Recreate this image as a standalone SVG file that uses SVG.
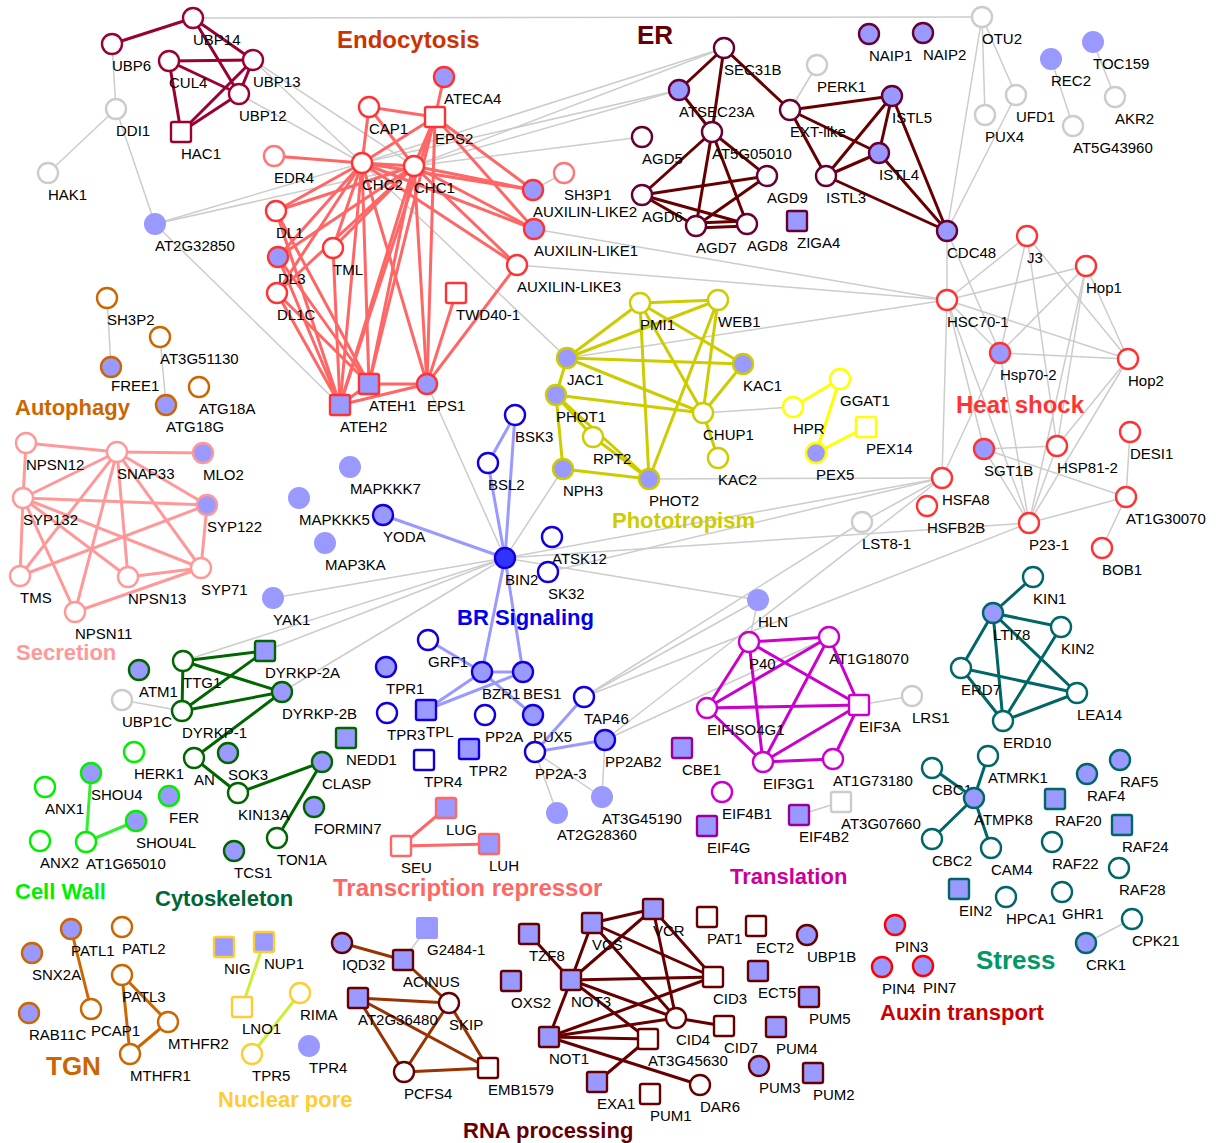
<svg xmlns="http://www.w3.org/2000/svg" width="1217" height="1143" viewBox="0 0 1217 1143">
<style>
text{font-family:"Liberation Sans",Arial,sans-serif;font-size:15px;fill:#000}
.c text{font-weight:bold}
circle,rect{stroke-width:2.4;fill:#fff}
.f{fill:#9999ff}
.nb{stroke:none}
.dk{fill:#3333ff}
.gr{stroke:#cccccc}
.ubp{stroke:#990033}.endo{stroke:#ff3333}.endo2{stroke:#ff7777}.er{stroke:#660033}.hs{stroke:#ff3333}
.auto{stroke:#cc6600}.sec{stroke:#ff9999}.pho{stroke:#cccc00}.yel{stroke:#ffff00}.br{stroke:#1100dd}
.cyt{stroke:#006600}.cw{stroke:#00ee00}.tr{stroke:#ff6666}.tl{stroke:#cc00cc}.tl2{stroke:#990099}.st{stroke:#006666}
.aux{stroke:#ff0000}.tgn{stroke:#cc6600}.np{stroke:#ffcc33}.rna{stroke:#660000}
#connectors line{stroke-linecap:round}
.e0{stroke:#cccccc;stroke-width:1.5}
.e1{stroke-width:3}
.eubp{stroke:#990033}.eendo{stroke:#ff6666}.eer{stroke:#660000}.esec{stroke:#ff9999}.epho{stroke:#cccc00}
.eyel{stroke:#ffff00}.ebr{stroke:#9999ff}.etl{stroke:#cc00cc}.est{stroke:#006666}.ecyt{stroke:#006600}
.ecw{stroke:#33ee33}.etr{stroke:#ff6666}.etgn{stroke:#cc6600}.enp{stroke:#ccee33}.eac{stroke:#993300}.erna{stroke:#660000}
</style>
<rect width="1217" height="1143" fill="#fff"/>
<g id="connectors">
<g class="e0">
<line x1="193" y1="18" x2="982" y2="17"/>
<line x1="112" y1="44" x2="116" y2="109"/>
<line x1="116" y1="109" x2="48" y2="173"/>
<line x1="116" y1="109" x2="155" y2="224"/>
<line x1="155" y1="224" x2="362" y2="163"/>
<line x1="155" y1="224" x2="414" y2="166"/>
<line x1="155" y1="224" x2="340" y2="405"/>
<line x1="253" y1="60" x2="414" y2="166"/>
<line x1="253" y1="60" x2="362" y2="163"/>
<line x1="239" y1="94" x2="362" y2="163"/>
<line x1="362" y1="163" x2="724" y2="48"/>
<line x1="414" y1="166" x2="724" y2="48"/>
<line x1="362" y1="163" x2="679" y2="90"/>
<line x1="414" y1="166" x2="679" y2="90"/>
<line x1="414" y1="166" x2="642" y2="137"/>
<line x1="564" y1="173" x2="533" y2="190"/>
<line x1="534" y1="229" x2="947" y2="300"/>
<line x1="517" y1="265" x2="947" y2="300"/>
<line x1="567" y1="358" x2="947" y2="300"/>
<line x1="362" y1="163" x2="567" y2="358"/>
<line x1="427" y1="384" x2="505" y2="558"/>
<line x1="505" y1="558" x2="563" y2="469"/>
<line x1="505" y1="558" x2="273" y2="598"/>
<line x1="505" y1="558" x2="183" y2="661"/>
<line x1="505" y1="558" x2="265" y2="651"/>
<line x1="505" y1="558" x2="282" y2="692"/>
<line x1="505" y1="558" x2="942" y2="478"/>
<line x1="548" y1="572" x2="942" y2="478"/>
<line x1="505" y1="558" x2="758" y2="600"/>
<line x1="505" y1="558" x2="1029" y2="523"/>
<line x1="649" y1="479" x2="942" y2="478"/>
<line x1="605" y1="740" x2="942" y2="478"/>
<line x1="862" y1="522" x2="942" y2="478"/>
<line x1="584" y1="697" x2="862" y2="522"/>
<line x1="584" y1="697" x2="1029" y2="523"/>
<line x1="584" y1="697" x2="758" y2="600"/>
<line x1="758" y1="600" x2="749" y2="642"/>
<line x1="605" y1="740" x2="829" y2="637"/>
<line x1="703" y1="413" x2="793" y2="407"/>
<line x1="817" y1="65" x2="790" y2="110"/>
<line x1="982" y1="17" x2="947" y2="231"/>
<line x1="982" y1="17" x2="985" y2="115"/>
<line x1="982" y1="17" x2="1016" y2="95"/>
<line x1="1016" y1="95" x2="947" y2="231"/>
<line x1="1051" y1="59" x2="1073" y2="126"/>
<line x1="1093" y1="42" x2="1115" y2="97"/>
<line x1="947" y1="231" x2="947" y2="300"/>
<line x1="947" y1="231" x2="1000" y2="353"/>
<line x1="1027" y1="236" x2="947" y2="300"/>
<line x1="1027" y1="236" x2="1000" y2="353"/>
<line x1="1027" y1="236" x2="1057" y2="446"/>
<line x1="1027" y1="236" x2="1128" y2="359"/>
<line x1="947" y1="300" x2="1086" y2="266"/>
<line x1="947" y1="300" x2="1128" y2="359"/>
<line x1="947" y1="300" x2="1000" y2="353"/>
<line x1="947" y1="300" x2="984" y2="449"/>
<line x1="947" y1="300" x2="1029" y2="523"/>
<line x1="947" y1="300" x2="942" y2="478"/>
<line x1="1000" y1="353" x2="1086" y2="266"/>
<line x1="1000" y1="353" x2="1128" y2="359"/>
<line x1="1000" y1="353" x2="1029" y2="523"/>
<line x1="1000" y1="353" x2="942" y2="478"/>
<line x1="1086" y1="266" x2="1029" y2="523"/>
<line x1="1086" y1="266" x2="1057" y2="446"/>
<line x1="1086" y1="266" x2="1128" y2="359"/>
<line x1="1128" y1="359" x2="1029" y2="523"/>
<line x1="1128" y1="359" x2="1057" y2="446"/>
<line x1="984" y1="449" x2="1057" y2="446"/>
<line x1="984" y1="449" x2="1029" y2="523"/>
<line x1="984" y1="449" x2="1126" y2="497"/>
<line x1="1057" y1="446" x2="1029" y2="523"/>
<line x1="1029" y1="523" x2="1126" y2="497"/>
<line x1="1130" y1="432" x2="1126" y2="497"/>
<line x1="1126" y1="497" x2="1102" y2="548"/>
<line x1="859" y1="705" x2="912" y2="696"/>
<line x1="799" y1="815" x2="841" y2="802"/>
<line x1="535" y1="752" x2="557" y2="813"/>
<line x1="535" y1="752" x2="602" y2="797"/>
<line x1="605" y1="740" x2="602" y2="797"/>
<line x1="427" y1="928" x2="403" y2="960"/>
<line x1="122" y1="700" x2="182" y2="711"/>
<line x1="1086" y1="943" x2="1132" y2="919"/>
<line x1="107" y1="298" x2="111" y2="367"/>
<line x1="160" y1="337" x2="166" y2="405"/>
</g>
<g class="e1 eubp">
<line x1="193" y1="18" x2="112" y2="44"/>
<line x1="193" y1="18" x2="253" y2="60"/>
<line x1="193" y1="18" x2="239" y2="94"/>
<line x1="169" y1="61" x2="253" y2="60"/>
<line x1="169" y1="61" x2="239" y2="94"/>
<line x1="169" y1="61" x2="181" y2="132"/>
<line x1="253" y1="60" x2="239" y2="94"/>
<line x1="253" y1="60" x2="181" y2="132"/>
<line x1="239" y1="94" x2="181" y2="132"/>
</g>
<g class="e1 eendo">
<line x1="444" y1="77" x2="435" y2="117"/>
<line x1="369" y1="107" x2="435" y2="117"/>
<line x1="369" y1="107" x2="362" y2="163"/>
<line x1="369" y1="107" x2="414" y2="166"/>
<line x1="435" y1="117" x2="362" y2="163"/>
<line x1="435" y1="117" x2="414" y2="166"/>
<line x1="435" y1="117" x2="533" y2="190"/>
<line x1="435" y1="117" x2="534" y2="229"/>
<line x1="435" y1="117" x2="369" y2="384"/>
<line x1="435" y1="117" x2="340" y2="405"/>
<line x1="435" y1="117" x2="427" y2="384"/>
<line x1="362" y1="163" x2="414" y2="166"/>
<line x1="362" y1="163" x2="274" y2="156"/>
<line x1="362" y1="163" x2="276" y2="211"/>
<line x1="362" y1="163" x2="278" y2="257"/>
<line x1="362" y1="163" x2="277" y2="293"/>
<line x1="362" y1="163" x2="333" y2="248"/>
<line x1="362" y1="163" x2="369" y2="384"/>
<line x1="362" y1="163" x2="340" y2="405"/>
<line x1="362" y1="163" x2="427" y2="384"/>
<line x1="362" y1="163" x2="533" y2="190"/>
<line x1="362" y1="163" x2="534" y2="229"/>
<line x1="362" y1="163" x2="517" y2="265"/>
<line x1="414" y1="166" x2="276" y2="211"/>
<line x1="414" y1="166" x2="278" y2="257"/>
<line x1="414" y1="166" x2="277" y2="293"/>
<line x1="414" y1="166" x2="333" y2="248"/>
<line x1="414" y1="166" x2="369" y2="384"/>
<line x1="414" y1="166" x2="340" y2="405"/>
<line x1="414" y1="166" x2="427" y2="384"/>
<line x1="414" y1="166" x2="533" y2="190"/>
<line x1="414" y1="166" x2="534" y2="229"/>
<line x1="414" y1="166" x2="517" y2="265"/>
<line x1="276" y1="211" x2="369" y2="384"/>
<line x1="276" y1="211" x2="340" y2="405"/>
<line x1="278" y1="257" x2="369" y2="384"/>
<line x1="278" y1="257" x2="340" y2="405"/>
<line x1="277" y1="293" x2="369" y2="384"/>
<line x1="277" y1="293" x2="340" y2="405"/>
<line x1="333" y1="248" x2="340" y2="405"/>
<line x1="369" y1="384" x2="340" y2="405"/>
<line x1="369" y1="384" x2="427" y2="384"/>
<line x1="340" y1="405" x2="427" y2="384"/>
<line x1="456" y1="293" x2="427" y2="384"/>
<line x1="517" y1="265" x2="427" y2="384"/>
</g>
<g class="e1 eer">
<line x1="724" y1="48" x2="679" y2="90"/>
<line x1="724" y1="48" x2="712" y2="132"/>
<line x1="724" y1="48" x2="790" y2="110"/>
<line x1="679" y1="90" x2="712" y2="132"/>
<line x1="712" y1="132" x2="642" y2="195"/>
<line x1="712" y1="132" x2="696" y2="226"/>
<line x1="712" y1="132" x2="747" y2="224"/>
<line x1="712" y1="132" x2="767" y2="176"/>
<line x1="642" y1="195" x2="767" y2="176"/>
<line x1="642" y1="195" x2="696" y2="226"/>
<line x1="642" y1="195" x2="747" y2="224"/>
<line x1="696" y1="223" x2="747" y2="221"/>
<line x1="696" y1="228" x2="747" y2="226"/>
<line x1="696" y1="226" x2="767" y2="176"/>
<line x1="790" y1="110" x2="892" y2="96"/>
<line x1="790" y1="110" x2="826" y2="176"/>
<line x1="790" y1="110" x2="879" y2="153"/>
<line x1="892" y1="96" x2="826" y2="176"/>
<line x1="892" y1="96" x2="879" y2="153"/>
<line x1="892" y1="96" x2="947" y2="231"/>
<line x1="879" y1="153" x2="826" y2="176"/>
<line x1="879" y1="153" x2="947" y2="231"/>
<line x1="826" y1="176" x2="947" y2="231"/>
</g>
<g class="e1 esec">
<line x1="26" y1="443" x2="117" y2="452"/>
<line x1="26" y1="443" x2="23" y2="498"/>
<line x1="117" y1="452" x2="203" y2="453"/>
<line x1="117" y1="452" x2="23" y2="498"/>
<line x1="117" y1="452" x2="20" y2="576"/>
<line x1="117" y1="452" x2="75" y2="612"/>
<line x1="117" y1="452" x2="128" y2="577"/>
<line x1="117" y1="452" x2="201" y2="568"/>
<line x1="117" y1="452" x2="207" y2="505"/>
<line x1="23" y1="498" x2="207" y2="505"/>
<line x1="23" y1="498" x2="20" y2="576"/>
<line x1="23" y1="498" x2="75" y2="612"/>
<line x1="23" y1="498" x2="128" y2="577"/>
<line x1="23" y1="498" x2="201" y2="568"/>
<line x1="20" y1="576" x2="207" y2="505"/>
<line x1="207" y1="505" x2="201" y2="568"/>
<line x1="128" y1="577" x2="201" y2="568"/>
<line x1="75" y1="612" x2="201" y2="568"/>
</g>
<g class="e1 epho">
<line x1="567" y1="358" x2="640" y2="303"/>
<line x1="567" y1="358" x2="718" y2="300"/>
<line x1="567" y1="358" x2="743" y2="364"/>
<line x1="567" y1="358" x2="703" y2="413"/>
<line x1="567" y1="358" x2="556" y2="395"/>
<line x1="556" y1="395" x2="703" y2="413"/>
<line x1="556" y1="395" x2="593" y2="437"/>
<line x1="556" y1="395" x2="563" y2="469"/>
<line x1="556" y1="395" x2="649" y2="479"/>
<line x1="593" y1="437" x2="649" y2="479"/>
<line x1="563" y1="469" x2="649" y2="479"/>
<line x1="640" y1="303" x2="718" y2="300"/>
<line x1="640" y1="303" x2="743" y2="364"/>
<line x1="640" y1="303" x2="649" y2="479"/>
<line x1="640" y1="303" x2="703" y2="413"/>
<line x1="718" y1="300" x2="703" y2="413"/>
<line x1="718" y1="300" x2="649" y2="479"/>
<line x1="743" y1="364" x2="703" y2="413"/>
<line x1="703" y1="413" x2="718" y2="458"/>
</g>
<g class="e1 eyel">
<line x1="793" y1="407" x2="840" y2="379"/>
<line x1="840" y1="379" x2="816" y2="453"/>
<line x1="816" y1="453" x2="866" y2="427"/>
</g>
<g class="e1 ebr">
<line x1="515" y1="415" x2="488" y2="463"/>
<line x1="515" y1="415" x2="505" y2="558"/>
<line x1="488" y1="463" x2="505" y2="558"/>
<line x1="383" y1="515" x2="505" y2="558"/>
<line x1="505" y1="558" x2="482" y2="672"/>
<line x1="505" y1="558" x2="523" y2="672"/>
<line x1="428" y1="640" x2="482" y2="672"/>
<line x1="482" y1="672" x2="523" y2="672"/>
<line x1="482" y1="672" x2="426" y2="710"/>
<line x1="523" y1="672" x2="426" y2="710"/>
<line x1="482" y1="672" x2="533" y2="715"/>
<line x1="584" y1="697" x2="535" y2="752"/>
<line x1="535" y1="752" x2="605" y2="740"/>
</g>
<g class="e1 etl">
<line x1="749" y1="642" x2="829" y2="637"/>
<line x1="749" y1="642" x2="707" y2="708"/>
<line x1="749" y1="642" x2="859" y2="705"/>
<line x1="749" y1="642" x2="763" y2="762"/>
<line x1="829" y1="637" x2="707" y2="708"/>
<line x1="829" y1="637" x2="859" y2="705"/>
<line x1="829" y1="637" x2="763" y2="762"/>
<line x1="707" y1="708" x2="859" y2="705"/>
<line x1="707" y1="708" x2="763" y2="762"/>
<line x1="859" y1="705" x2="763" y2="762"/>
<line x1="859" y1="705" x2="833" y2="759"/>
<line x1="763" y1="762" x2="833" y2="759"/>
</g>
<g class="e1 est">
<line x1="993" y1="613" x2="1033" y2="577"/>
<line x1="993" y1="613" x2="1061" y2="627"/>
<line x1="993" y1="613" x2="961" y2="668"/>
<line x1="993" y1="613" x2="1003" y2="721"/>
<line x1="993" y1="613" x2="1077" y2="693"/>
<line x1="961" y1="668" x2="1077" y2="693"/>
<line x1="961" y1="668" x2="1003" y2="721"/>
<line x1="1003" y1="721" x2="1077" y2="693"/>
<line x1="1003" y1="721" x2="1061" y2="627"/>
<line x1="932" y1="768" x2="974" y2="798"/>
<line x1="988" y1="756" x2="974" y2="798"/>
<line x1="974" y1="798" x2="932" y2="839"/>
<line x1="974" y1="798" x2="991" y2="848"/>
</g>
<g class="e1 ecyt">
<line x1="183" y1="661" x2="265" y2="651"/>
<line x1="183" y1="661" x2="282" y2="692"/>
<line x1="183" y1="661" x2="182" y2="711"/>
<line x1="182" y1="711" x2="265" y2="651"/>
<line x1="182" y1="711" x2="282" y2="692"/>
<line x1="282" y1="692" x2="194" y2="758"/>
<line x1="194" y1="758" x2="238" y2="793"/>
<line x1="238" y1="793" x2="322" y2="762"/>
<line x1="277" y1="838" x2="322" y2="762"/>
</g>
<g class="e1 ecw">
<line x1="91" y1="773" x2="86" y2="842"/>
<line x1="86" y1="842" x2="136" y2="821"/>
</g>
<g class="e1 etr">
<line x1="401" y1="846" x2="446" y2="808"/>
<line x1="401" y1="846" x2="489" y2="844"/>
</g>
<g class="e1 etgn">
<line x1="71" y1="929" x2="91" y2="1009"/>
<line x1="122" y1="975" x2="168" y2="1022"/>
<line x1="122" y1="975" x2="130" y2="1054"/>
<line x1="130" y1="1054" x2="168" y2="1022"/>
</g>
<g class="e1 enp">
<line x1="264" y1="942" x2="242" y2="1007"/>
<line x1="300" y1="993" x2="252" y2="1054"/>
</g>
<g class="e1 eac">
<line x1="342" y1="943" x2="403" y2="960"/>
<line x1="403" y1="960" x2="449" y2="1003"/>
<line x1="358" y1="998" x2="449" y2="1003"/>
<line x1="358" y1="998" x2="404" y2="1072"/>
<line x1="358" y1="998" x2="488" y2="1068"/>
<line x1="449" y1="1003" x2="404" y2="1072"/>
<line x1="449" y1="1003" x2="488" y2="1068"/>
<line x1="404" y1="1072" x2="488" y2="1068"/>
</g>
<g class="e1 erna">
<line x1="592" y1="923" x2="653" y2="909"/>
<line x1="592" y1="923" x2="571" y2="980"/>
<line x1="592" y1="923" x2="713" y2="977"/>
<line x1="592" y1="923" x2="676" y2="1018"/>
<line x1="653" y1="909" x2="571" y2="980"/>
<line x1="653" y1="909" x2="713" y2="977"/>
<line x1="653" y1="909" x2="676" y2="1018"/>
<line x1="529" y1="934" x2="571" y2="980"/>
<line x1="571" y1="980" x2="549" y2="1037"/>
<line x1="571" y1="980" x2="713" y2="977"/>
<line x1="571" y1="980" x2="676" y2="1018"/>
<line x1="571" y1="980" x2="648" y2="1039"/>
<line x1="549" y1="1037" x2="713" y2="977"/>
<line x1="549" y1="1037" x2="676" y2="1018"/>
<line x1="549" y1="1037" x2="648" y2="1039"/>
<line x1="549" y1="1037" x2="700" y2="1085"/>
<line x1="648" y1="1039" x2="597" y2="1082"/>
<line x1="676" y1="1018" x2="724" y2="1026"/>
</g>
</g>
<g id="nodes">
<g id="UBP14"><circle class="ubp" cx="193" cy="18" r="10"/><text x="193" y="45">UBP14</text></g>
<g id="UBP6"><circle class="ubp" cx="112" cy="44" r="10"/><text x="112" y="71">UBP6</text></g>
<g id="CUL4"><circle class="ubp" cx="169" cy="61" r="10"/><text x="169" y="88">CUL4</text></g>
<g id="UBP13"><circle class="ubp" cx="253" cy="60" r="10"/><text x="253" y="87">UBP13</text></g>
<g id="UBP12"><circle class="ubp" cx="239" cy="94" r="10"/><text x="239" y="121">UBP12</text></g>
<g id="HAC1"><rect class="ubp" x="171" y="122" width="20" height="20" rx="2"/><text x="181" y="159">HAC1</text></g>
<g id="DDI1"><circle class="gr" cx="116" cy="109" r="10"/><text x="116" y="136">DDI1</text></g>
<g id="HAK1"><circle class="gr" cx="48" cy="173" r="10"/><text x="48" y="200">HAK1</text></g>
<g id="AT2G32850"><circle class="f nb" cx="155" cy="224" r="11"/><text x="155" y="251">AT2G32850</text></g>
<g id="ATECA4"><circle class="endo f" cx="444" cy="77" r="10"/><text x="444" y="104">ATECA4</text></g>
<g id="CAP1"><circle class="endo" cx="369" cy="107" r="10"/><text x="369" y="134">CAP1</text></g>
<g id="EPS2"><rect class="endo" x="425" y="107" width="20" height="20" rx="2"/><text x="435" y="144">EPS2</text></g>
<g id="EDR4"><circle class="endo2" cx="274" cy="156" r="10"/><text x="274" y="183">EDR4</text></g>
<g id="CHC2"><circle class="endo" cx="362" cy="163" r="10"/><text x="362" y="190">CHC2</text></g>
<g id="CHC1"><circle class="endo" cx="414" cy="166" r="10"/><text x="414" y="193">CHC1</text></g>
<g id="SH3P1"><circle class="endo2" cx="564" cy="173" r="10"/><text x="564" y="200">SH3P1</text></g>
<g id="AUXILIN-LIKE2"><circle class="endo f" cx="533" cy="190" r="10"/><text x="533" y="217">AUXILIN-LIKE2</text></g>
<g id="AUXILIN-LIKE1"><circle class="endo f" cx="534" cy="229" r="10"/><text x="534" y="256">AUXILIN-LIKE1</text></g>
<g id="DL1"><circle class="endo" cx="276" cy="211" r="10"/><text x="276" y="238">DL1</text></g>
<g id="DL3"><circle class="endo f" cx="278" cy="257" r="10"/><text x="278" y="284">DL3</text></g>
<g id="DL1C"><circle class="endo" cx="277" cy="293" r="10"/><text x="277" y="320">DL1C</text></g>
<g id="TML"><circle class="endo" cx="333" cy="248" r="10"/><text x="333" y="275">TML</text></g>
<g id="AUXILIN-LIKE3"><circle class="endo" cx="517" cy="265" r="10"/><text x="517" y="292">AUXILIN-LIKE3</text></g>
<g id="TWD40-1"><rect class="endo" x="446" y="283" width="20" height="20" rx="2"/><text x="456" y="320">TWD40-1</text></g>
<g id="ATEH1"><rect class="endo f" x="359" y="374" width="20" height="20" rx="2"/><text x="369" y="411">ATEH1</text></g>
<g id="ATEH2"><rect class="endo f" x="330" y="395" width="20" height="20" rx="2"/><text x="340" y="432">ATEH2</text></g>
<g id="EPS1"><circle class="endo f" cx="427" cy="384" r="10"/><text x="427" y="411">EPS1</text></g>
<g id="SEC31B"><circle class="er" cx="724" cy="48" r="10"/><text x="724" y="75">SEC31B</text></g>
<g id="ATSEC23A"><circle class="er f" cx="679" cy="90" r="10"/><text x="679" y="117">ATSEC23A</text></g>
<g id="AT5G05010"><circle class="er" cx="712" cy="132" r="10"/><text x="712" y="159">AT5G05010</text></g>
<g id="AGD5"><circle class="er" cx="642" cy="137" r="10"/><text x="642" y="164">AGD5</text></g>
<g id="AGD9"><circle class="er" cx="767" cy="176" r="10"/><text x="767" y="203">AGD9</text></g>
<g id="AGD6"><circle class="er" cx="642" cy="195" r="10"/><text x="642" y="222">AGD6</text></g>
<g id="AGD7"><circle class="er" cx="696" cy="226" r="10"/><text x="696" y="253">AGD7</text></g>
<g id="AGD8"><circle class="er" cx="747" cy="224" r="10"/><text x="747" y="251">AGD8</text></g>
<g id="ZIGA4"><rect class="er f" x="787" y="211" width="20" height="20" rx="2"/><text x="797" y="248">ZIGA4</text></g>
<g id="EXT-like"><circle class="er" cx="790" cy="110" r="10"/><text x="790" y="137">EXT-like</text></g>
<g id="ISTL5"><circle class="er f" cx="892" cy="96" r="10"/><text x="892" y="123">ISTL5</text></g>
<g id="ISTL4"><circle class="er f" cx="879" cy="153" r="10"/><text x="879" y="180">ISTL4</text></g>
<g id="ISTL3"><circle class="er" cx="826" cy="176" r="10"/><text x="826" y="203">ISTL3</text></g>
<g id="CDC48"><circle class="er f" cx="947" cy="231" r="10"/><text x="947" y="258">CDC48</text></g>
<g id="NAIP1"><circle class="er f" cx="869" cy="34" r="10"/><text x="869" y="61">NAIP1</text></g>
<g id="NAIP2"><circle class="er f" cx="923" cy="33" r="10"/><text x="923" y="60">NAIP2</text></g>
<g id="PERK1"><circle class="gr" cx="817" cy="65" r="10"/><text x="817" y="92">PERK1</text></g>
<g id="OTU2"><circle class="gr" cx="982" cy="17" r="10"/><text x="982" y="44">OTU2</text></g>
<g id="PUX4"><circle class="gr" cx="985" cy="115" r="10"/><text x="985" y="142">PUX4</text></g>
<g id="UFD1"><circle class="gr" cx="1016" cy="95" r="10"/><text x="1016" y="122">UFD1</text></g>
<g id="REC2"><circle class="f nb" cx="1051" cy="59" r="11"/><text x="1051" y="86">REC2</text></g>
<g id="TOC159"><circle class="f nb" cx="1093" cy="42" r="11"/><text x="1093" y="69">TOC159</text></g>
<g id="AKR2"><circle class="gr" cx="1115" cy="97" r="10"/><text x="1115" y="124">AKR2</text></g>
<g id="AT5G43960"><circle class="gr" cx="1073" cy="126" r="10"/><text x="1073" y="153">AT5G43960</text></g>
<g id="J3"><circle class="hs" cx="1027" cy="236" r="10"/><text x="1027" y="263">J3</text></g>
<g id="Hop1"><circle class="hs" cx="1086" cy="266" r="10"/><text x="1086" y="293">Hop1</text></g>
<g id="HSC70-1"><circle class="hs" cx="947" cy="300" r="10"/><text x="947" y="327">HSC70-1</text></g>
<g id="Hsp70-2"><circle class="hs f" cx="1000" cy="353" r="10"/><text x="1000" y="380">Hsp70-2</text></g>
<g id="Hop2"><circle class="hs" cx="1128" cy="359" r="10"/><text x="1128" y="386">Hop2</text></g>
<g id="SGT1B"><circle class="hs f" cx="984" cy="449" r="10"/><text x="984" y="476">SGT1B</text></g>
<g id="HSP81-2"><circle class="hs" cx="1057" cy="446" r="10"/><text x="1057" y="473">HSP81-2</text></g>
<g id="DESI1"><circle class="hs" cx="1130" cy="432" r="10"/><text x="1130" y="459">DESI1</text></g>
<g id="HSFA8"><circle class="hs" cx="942" cy="478" r="10"/><text x="942" y="505">HSFA8</text></g>
<g id="HSFB2B"><circle class="hs" cx="927" cy="506" r="10"/><text x="927" y="533">HSFB2B</text></g>
<g id="AT1G30070"><circle class="hs" cx="1126" cy="497" r="10"/><text x="1126" y="524">AT1G30070</text></g>
<g id="P23-1"><circle class="hs" cx="1029" cy="523" r="10"/><text x="1029" y="550">P23-1</text></g>
<g id="BOB1"><circle class="hs" cx="1102" cy="548" r="10"/><text x="1102" y="575">BOB1</text></g>
<g id="SH3P2"><circle class="auto" cx="107" cy="298" r="10"/><text x="107" y="325">SH3P2</text></g>
<g id="AT3G51130"><circle class="auto" cx="160" cy="337" r="10"/><text x="160" y="364">AT3G51130</text></g>
<g id="FREE1"><circle class="auto f" cx="111" cy="367" r="10"/><text x="111" y="391">FREE1</text></g>
<g id="ATG18A"><circle class="auto" cx="199" cy="387" r="10"/><text x="199" y="414">ATG18A</text></g>
<g id="ATG18G"><circle class="auto f" cx="166" cy="405" r="10"/><text x="166" y="432">ATG18G</text></g>
<g id="NPSN12"><circle class="sec" cx="26" cy="443" r="10"/><text x="26" y="470">NPSN12</text></g>
<g id="SNAP33"><circle class="sec" cx="117" cy="452" r="10"/><text x="117" y="479">SNAP33</text></g>
<g id="MLO2"><circle class="sec f" cx="203" cy="453" r="10"/><text x="203" y="480">MLO2</text></g>
<g id="SYP132"><circle class="sec" cx="23" cy="498" r="10"/><text x="23" y="525">SYP132</text></g>
<g id="SYP122"><circle class="sec f" cx="207" cy="505" r="10"/><text x="207" y="532">SYP122</text></g>
<g id="TMS"><circle class="sec" cx="20" cy="576" r="10"/><text x="20" y="603">TMS</text></g>
<g id="NPSN13"><circle class="sec" cx="128" cy="577" r="10"/><text x="128" y="604">NPSN13</text></g>
<g id="SYP71"><circle class="sec" cx="201" cy="568" r="10"/><text x="201" y="595">SYP71</text></g>
<g id="NPSN11"><circle class="sec" cx="75" cy="612" r="10"/><text x="75" y="639">NPSN11</text></g>
<g id="PMI1"><circle class="pho" cx="640" cy="303" r="10"/><text x="640" y="330">PMI1</text></g>
<g id="WEB1"><circle class="pho" cx="718" cy="300" r="10"/><text x="718" y="327">WEB1</text></g>
<g id="JAC1"><circle class="pho f" cx="567" cy="358" r="10"/><text x="567" y="385">JAC1</text></g>
<g id="KAC1"><circle class="pho f" cx="743" cy="364" r="10"/><text x="743" y="391">KAC1</text></g>
<g id="PHOT1"><circle class="pho f" cx="556" cy="395" r="10"/><text x="556" y="422">PHOT1</text></g>
<g id="CHUP1"><circle class="pho" cx="703" cy="413" r="10"/><text x="703" y="440">CHUP1</text></g>
<g id="RPT2"><circle class="pho" cx="593" cy="437" r="10"/><text x="593" y="464">RPT2</text></g>
<g id="KAC2"><circle class="pho" cx="718" cy="458" r="10"/><text x="718" y="485">KAC2</text></g>
<g id="NPH3"><circle class="pho f" cx="563" cy="469" r="10"/><text x="563" y="496">NPH3</text></g>
<g id="PHOT2"><circle class="pho f" cx="649" cy="479" r="10"/><text x="649" y="506">PHOT2</text></g>
<g id="HPR"><circle class="yel" cx="793" cy="407" r="10"/><text x="793" y="434">HPR</text></g>
<g id="GGAT1"><circle class="yel" cx="840" cy="379" r="10"/><text x="840" y="406">GGAT1</text></g>
<g id="PEX14"><rect class="yel" x="856" y="417" width="20" height="20" rx="2"/><text x="866" y="454">PEX14</text></g>
<g id="PEX5"><circle class="yel f" cx="816" cy="453" r="10"/><text x="816" y="480">PEX5</text></g>
<g id="BSK3"><circle class="br" cx="515" cy="415" r="10"/><text x="515" y="442">BSK3</text></g>
<g id="BSL2"><circle class="br" cx="488" cy="463" r="10"/><text x="488" y="490">BSL2</text></g>
<g id="YODA"><circle class="br f" cx="383" cy="515" r="10"/><text x="383" y="542">YODA</text></g>
<g id="BIN2"><circle class="br dk" cx="505" cy="558" r="10"/><text x="505" y="585">BIN2</text></g>
<g id="ATSK12"><circle class="br" cx="552" cy="537" r="10"/><text x="552" y="564">ATSK12</text></g>
<g id="SK32"><circle class="br" cx="548" cy="572" r="10"/><text x="548" y="599">SK32</text></g>
<g id="GRF1"><circle class="br" cx="428" cy="640" r="10"/><text x="428" y="667">GRF1</text></g>
<g id="BZR1"><circle class="br f" cx="482" cy="672" r="10"/><text x="482" y="699">BZR1</text></g>
<g id="BES1"><circle class="br f" cx="523" cy="672" r="10"/><text x="523" y="699">BES1</text></g>
<g id="TPR1"><circle class="br f" cx="386" cy="667" r="10"/><text x="386" y="694">TPR1</text></g>
<g id="TPR3"><circle class="br" cx="387" cy="713" r="10"/><text x="387" y="740">TPR3</text></g>
<g id="TPL"><rect class="br f" x="416" y="700" width="20" height="20" rx="2"/><text x="426" y="737">TPL</text></g>
<g id="PP2A"><circle class="br" cx="485" cy="715" r="10"/><text x="485" y="742">PP2A</text></g>
<g id="PUX5"><circle class="br f" cx="533" cy="715" r="10"/><text x="533" y="742">PUX5</text></g>
<g id="TPR2"><rect class="br f" x="459" y="739" width="20" height="20" rx="2"/><text x="469" y="776">TPR2</text></g>
<g id="TPR4"><rect class="br" x="414" y="750" width="20" height="20" rx="2"/><text x="424" y="787">TPR4</text></g>
<g id="TAP46"><circle class="br" cx="584" cy="697" r="10"/><text x="584" y="724">TAP46</text></g>
<g id="PP2A-3"><circle class="br" cx="535" cy="752" r="10"/><text x="535" y="779">PP2A-3</text></g>
<g id="PP2AB2"><circle class="br f" cx="605" cy="740" r="10"/><text x="605" y="767">PP2AB2</text></g>
<g id="MAPKKK7"><circle class="f nb" cx="350" cy="467" r="11"/><text x="350" y="494">MAPKKK7</text></g>
<g id="MAPKKK5"><circle class="f nb" cx="299" cy="498" r="11"/><text x="299" y="525">MAPKKK5</text></g>
<g id="MAP3KA"><circle class="f nb" cx="325" cy="543" r="11"/><text x="325" y="570">MAP3KA</text></g>
<g id="YAK1"><circle class="f nb" cx="273" cy="598" r="11"/><text x="273" y="625">YAK1</text></g>
<g id="LST8-1"><circle class="gr" cx="862" cy="522" r="10"/><text x="862" y="549">LST8-1</text></g>
<g id="HLN"><circle class="f nb" cx="758" cy="600" r="11"/><text x="758" y="627">HLN</text></g>
<g id="LRS1"><circle class="gr" cx="912" cy="696" r="10"/><text x="912" y="723">LRS1</text></g>
<g id="P40"><circle class="tl" cx="749" cy="642" r="10"/><text x="749" y="669">P40</text></g>
<g id="AT1G18070"><circle class="tl" cx="829" cy="637" r="10"/><text x="829" y="664">AT1G18070</text></g>
<g id="EIFISO4G1"><circle class="tl" cx="707" cy="708" r="10"/><text x="707" y="735">EIFISO4G1</text></g>
<g id="EIF3A"><rect class="tl" x="849" y="695" width="20" height="20" rx="2"/><text x="859" y="732">EIF3A</text></g>
<g id="EIF3G1"><circle class="tl" cx="763" cy="762" r="10"/><text x="763" y="789">EIF3G1</text></g>
<g id="AT1G73180"><circle class="tl" cx="833" cy="759" r="10"/><text x="833" y="786">AT1G73180</text></g>
<g id="CBE1"><rect class="tl2 f" x="672" y="738" width="20" height="20" rx="2"/><text x="682" y="775">CBE1</text></g>
<g id="EIF4B1"><circle class="tl" cx="722" cy="792" r="10"/><text x="722" y="819">EIF4B1</text></g>
<g id="EIF4G"><rect class="tl2 f" x="697" y="816" width="20" height="20" rx="2"/><text x="707" y="853">EIF4G</text></g>
<g id="EIF4B2"><rect class="tl2 f" x="789" y="805" width="20" height="20" rx="2"/><text x="799" y="842">EIF4B2</text></g>
<g id="AT3G07660"><rect class="gr" x="831" y="792" width="20" height="20" rx="2"/><text x="841" y="829">AT3G07660</text></g>
<g id="AT2G28360"><circle class="f nb" cx="557" cy="813" r="11"/><text x="557" y="840">AT2G28360</text></g>
<g id="AT3G45190"><circle class="f nb" cx="602" cy="797" r="11"/><text x="602" y="824">AT3G45190</text></g>
<g id="TTG1"><circle class="cyt" cx="183" cy="661" r="10"/><text x="183" y="688">TTG1</text></g>
<g id="DYRKP-2A"><rect class="cyt f" x="255" y="641" width="20" height="20" rx="2"/><text x="265" y="678">DYRKP-2A</text></g>
<g id="DYRKP-2B"><circle class="cyt f" cx="282" cy="692" r="10"/><text x="282" y="719">DYRKP-2B</text></g>
<g id="ATM1"><circle class="cyt f" cx="139" cy="670" r="10"/><text x="139" y="697">ATM1</text></g>
<g id="UBP1C"><circle class="gr" cx="122" cy="700" r="10"/><text x="122" y="727">UBP1C</text></g>
<g id="DYRKP-1"><circle class="cyt" cx="182" cy="711" r="10"/><text x="182" y="738">DYRKP-1</text></g>
<g id="AN"><circle class="cyt" cx="194" cy="758" r="10"/><text x="194" y="785">AN</text></g>
<g id="SOK3"><circle class="cyt f" cx="228" cy="753" r="10"/><text x="228" y="780">SOK3</text></g>
<g id="KIN13A"><circle class="cyt" cx="238" cy="793" r="10"/><text x="238" y="820">KIN13A</text></g>
<g id="TON1A"><circle class="cyt" cx="277" cy="838" r="10"/><text x="277" y="865">TON1A</text></g>
<g id="TCS1"><circle class="cyt f" cx="234" cy="851" r="10"/><text x="234" y="878">TCS1</text></g>
<g id="NEDD1"><rect class="cyt f" x="336" y="728" width="20" height="20" rx="2"/><text x="346" y="765">NEDD1</text></g>
<g id="CLASP"><circle class="cyt f" cx="322" cy="762" r="10"/><text x="322" y="789">CLASP</text></g>
<g id="FORMIN7"><circle class="cyt f" cx="314" cy="807" r="10"/><text x="314" y="834">FORMIN7</text></g>
<g id="HERK1"><circle class="cw" cx="134" cy="752" r="10"/><text x="134" y="779">HERK1</text></g>
<g id="SHOU4"><circle class="cw f" cx="91" cy="773" r="10"/><text x="91" y="800">SHOU4</text></g>
<g id="ANX1"><circle class="cw" cx="45" cy="787" r="10"/><text x="45" y="814">ANX1</text></g>
<g id="FER"><circle class="cw f" cx="169" cy="796" r="10"/><text x="169" y="823">FER</text></g>
<g id="SHOU4L"><circle class="cw f" cx="136" cy="821" r="10"/><text x="136" y="848">SHOU4L</text></g>
<g id="ANX2"><circle class="cw" cx="40" cy="841" r="10"/><text x="40" y="868">ANX2</text></g>
<g id="AT1G65010"><circle class="cw" cx="86" cy="842" r="10"/><text x="86" y="869">AT1G65010</text></g>
<g id="LUG"><rect class="tr f" x="436" y="798" width="20" height="20" rx="2"/><text x="446" y="835">LUG</text></g>
<g id="SEU"><rect class="tr" x="391" y="836" width="20" height="20" rx="2"/><text x="401" y="873">SEU</text></g>
<g id="LUH"><rect class="tr f" x="479" y="834" width="20" height="20" rx="2"/><text x="489" y="871">LUH</text></g>
<g id="KIN1"><circle class="st" cx="1033" cy="577" r="10"/><text x="1033" y="604">KIN1</text></g>
<g id="LTI78"><circle class="st f" cx="993" cy="613" r="10"/><text x="993" y="640">LTI78</text></g>
<g id="KIN2"><circle class="st" cx="1061" cy="627" r="10"/><text x="1061" y="654">KIN2</text></g>
<g id="ERD7"><circle class="st" cx="961" cy="668" r="10"/><text x="961" y="695">ERD7</text></g>
<g id="LEA14"><circle class="st" cx="1077" cy="693" r="10"/><text x="1077" y="720">LEA14</text></g>
<g id="ERD10"><circle class="st" cx="1003" cy="721" r="10"/><text x="1003" y="748">ERD10</text></g>
<g id="ATMRK1"><circle class="st" cx="988" cy="756" r="10"/><text x="988" y="783">ATMRK1</text></g>
<g id="CBC1"><circle class="st" cx="932" cy="768" r="10"/><text x="932" y="795">CBC1</text></g>
<g id="ATMPK8"><circle class="st f" cx="974" cy="798" r="10"/><text x="974" y="825">ATMPK8</text></g>
<g id="CBC2"><circle class="st" cx="932" cy="839" r="10"/><text x="932" y="866">CBC2</text></g>
<g id="CAM4"><circle class="st" cx="991" cy="848" r="10"/><text x="991" y="875">CAM4</text></g>
<g id="RAF5"><circle class="st f" cx="1120" cy="760" r="10"/><text x="1120" y="787">RAF5</text></g>
<g id="RAF4"><circle class="st f" cx="1087" cy="774" r="10"/><text x="1087" y="801">RAF4</text></g>
<g id="RAF20"><rect class="st f" x="1045" y="789" width="20" height="20" rx="2"/><text x="1055" y="826">RAF20</text></g>
<g id="RAF24"><rect class="st f" x="1112" y="815" width="20" height="20" rx="2"/><text x="1122" y="852">RAF24</text></g>
<g id="RAF22"><circle class="st" cx="1052" cy="842" r="10"/><text x="1052" y="869">RAF22</text></g>
<g id="RAF28"><circle class="st" cx="1119" cy="868" r="10"/><text x="1119" y="895">RAF28</text></g>
<g id="EIN2"><rect class="st f" x="949" y="879" width="20" height="20" rx="2"/><text x="959" y="916">EIN2</text></g>
<g id="HPCA1"><circle class="st" cx="1006" cy="897" r="10"/><text x="1006" y="924">HPCA1</text></g>
<g id="GHR1"><circle class="st" cx="1062" cy="892" r="10"/><text x="1062" y="919">GHR1</text></g>
<g id="CPK21"><circle class="st" cx="1132" cy="919" r="10"/><text x="1132" y="946">CPK21</text></g>
<g id="CRK1"><circle class="st f" cx="1086" cy="943" r="10"/><text x="1086" y="970">CRK1</text></g>
<g id="PIN3"><circle class="aux f" cx="895" cy="925" r="10"/><text x="895" y="952">PIN3</text></g>
<g id="PIN4"><circle class="aux f" cx="882" cy="967" r="10"/><text x="882" y="994">PIN4</text></g>
<g id="PIN7"><circle class="aux f" cx="923" cy="966" r="10"/><text x="923" y="993">PIN7</text></g>
<g id="PATL1"><circle class="tgn f" cx="71" cy="929" r="10"/><text x="71" y="956">PATL1</text></g>
<g id="PATL2"><circle class="tgn" cx="122" cy="927" r="10"/><text x="122" y="954">PATL2</text></g>
<g id="SNX2A"><circle class="tgn f" cx="32" cy="953" r="10"/><text x="32" y="980">SNX2A</text></g>
<g id="PATL3"><circle class="tgn" cx="122" cy="975" r="10"/><text x="122" y="1002">PATL3</text></g>
<g id="PCAP1"><circle class="tgn" cx="91" cy="1009" r="10"/><text x="91" y="1036">PCAP1</text></g>
<g id="RAB11C"><circle class="tgn f" cx="29" cy="1013" r="10"/><text x="29" y="1040">RAB11C</text></g>
<g id="MTHFR2"><circle class="tgn" cx="168" cy="1022" r="10"/><text x="168" y="1049">MTHFR2</text></g>
<g id="MTHFR1"><circle class="tgn" cx="130" cy="1054" r="10"/><text x="130" y="1081">MTHFR1</text></g>
<g id="NIG"><rect class="np f" x="214" y="937" width="20" height="20" rx="2"/><text x="224" y="974">NIG</text></g>
<g id="NUP1"><rect class="np f" x="254" y="932" width="20" height="20" rx="2"/><text x="264" y="969">NUP1</text></g>
<g id="LNO1"><rect class="np" x="232" y="997" width="20" height="20" rx="2"/><text x="242" y="1034">LNO1</text></g>
<g id="TPR5"><circle class="np" cx="252" cy="1054" r="10"/><text x="252" y="1081">TPR5</text></g>
<g id="RIMA"><circle class="np" cx="300" cy="993" r="10"/><text x="300" y="1020">RIMA</text></g>
<g id="TPR4-np"><circle class="f nb" cx="309" cy="1046" r="11"/><text x="309" y="1073">TPR4</text></g>
<g id="IQD32"><circle class="rna f" cx="342" cy="943" r="10"/><text x="342" y="970">IQD32</text></g>
<g id="ACINUS"><rect class="rna f" x="393" y="950" width="20" height="20" rx="2"/><text x="403" y="987">ACINUS</text></g>
<g id="G2484-1"><rect class="f nb" x="416" y="917" width="22" height="22" rx="2"/><text x="427" y="955">G2484-1</text></g>
<g id="AT2G36480"><rect class="rna f" x="348" y="988" width="20" height="20" rx="2"/><text x="358" y="1025">AT2G36480</text></g>
<g id="SKIP"><circle class="rna" cx="449" cy="1003" r="10"/><text x="449" y="1030">SKIP</text></g>
<g id="PCFS4"><circle class="rna" cx="404" cy="1072" r="10"/><text x="404" y="1099">PCFS4</text></g>
<g id="EMB1579"><rect class="rna" x="478" y="1058" width="20" height="20" rx="2"/><text x="488" y="1095">EMB1579</text></g>
<g id="TZF8"><rect class="rna f" x="519" y="924" width="20" height="20" rx="2"/><text x="529" y="961">TZF8</text></g>
<g id="OXS2"><rect class="rna f" x="501" y="971" width="20" height="20" rx="2"/><text x="511" y="1008">OXS2</text></g>
<g id="VCS"><rect class="rna f" x="582" y="913" width="20" height="20" rx="2"/><text x="592" y="950">VCS</text></g>
<g id="NOT3"><rect class="rna f" x="561" y="970" width="20" height="20" rx="2"/><text x="571" y="1007">NOT3</text></g>
<g id="NOT1"><rect class="rna f" x="539" y="1027" width="20" height="20" rx="2"/><text x="549" y="1064">NOT1</text></g>
<g id="EXA1"><rect class="rna f" x="587" y="1072" width="20" height="20" rx="2"/><text x="597" y="1109">EXA1</text></g>
<g id="VCR"><rect class="rna f" x="643" y="899" width="20" height="20" rx="2"/><text x="653" y="936">VCR</text></g>
<g id="PAT1"><rect class="rna" x="697" y="907" width="20" height="20" rx="2"/><text x="707" y="944">PAT1</text></g>
<g id="ECT2"><rect class="rna" x="746" y="916" width="20" height="20" rx="2"/><text x="756" y="953">ECT2</text></g>
<g id="UBP1B"><circle class="rna f" cx="807" cy="935" r="10"/><text x="807" y="962">UBP1B</text></g>
<g id="ECT5"><rect class="rna f" x="748" y="961" width="20" height="20" rx="2"/><text x="758" y="998">ECT5</text></g>
<g id="CID3"><rect class="rna" x="703" y="967" width="20" height="20" rx="2"/><text x="713" y="1004">CID3</text></g>
<g id="PUM5"><rect class="rna f" x="799" y="987" width="20" height="20" rx="2"/><text x="809" y="1024">PUM5</text></g>
<g id="CID4"><circle class="rna" cx="676" cy="1018" r="10"/><text x="676" y="1045">CID4</text></g>
<g id="CID7"><rect class="rna" x="714" y="1016" width="20" height="20" rx="2"/><text x="724" y="1053">CID7</text></g>
<g id="PUM4"><rect class="rna f" x="766" y="1017" width="20" height="20" rx="2"/><text x="776" y="1054">PUM4</text></g>
<g id="AT3G45630"><rect class="rna" x="638" y="1029" width="20" height="20" rx="2"/><text x="648" y="1066">AT3G45630</text></g>
<g id="PUM3"><circle class="rna f" cx="759" cy="1066" r="10"/><text x="759" y="1093">PUM3</text></g>
<g id="PUM2"><rect class="rna f" x="803" y="1063" width="20" height="20" rx="2"/><text x="813" y="1100">PUM2</text></g>
<g id="DAR6"><circle class="rna" cx="700" cy="1085" r="10"/><text x="700" y="1112">DAR6</text></g>
<g id="PUM1"><rect class="rna" x="640" y="1084" width="20" height="20" rx="2"/><text x="650" y="1121">PUM1</text></g>
</g>
<g id="categories" class="c">
<text x="337" y="48" style="font-size:24px;fill:#cc3300">Endocytosis</text>
<text x="637" y="44" style="font-size:26px;fill:#660000">ER</text>
<text x="15" y="415" style="font-size:22px;fill:#cc6600">Autophagy</text>
<text x="16" y="660" style="font-size:22px;fill:#ff9999">Secretion</text>
<text x="457" y="625" style="font-size:22px;fill:#0000ee">BR Signaling</text>
<text x="612" y="528" style="font-size:22px;fill:#cccc00">Phototropism</text>
<text x="956" y="413" style="font-size:24px;fill:#ff3333">Heat shock</text>
<text x="333" y="896" style="font-size:24px;fill:#ff6666">Transcription repressor</text>
<text x="730" y="884" style="font-size:22px;fill:#cc0099">Translation</text>
<text x="15" y="899" style="font-size:22px;fill:#00ee00">Cell Wall</text>
<text x="155" y="906" style="font-size:22px;fill:#006633">Cytoskeleton</text>
<text x="46" y="1075" style="font-size:26px;fill:#cc6600">TGN</text>
<text x="218" y="1107" style="font-size:22px;fill:#ffcc33">Nuclear pore</text>
<text x="463" y="1138" style="font-size:22px;fill:#660000">RNA processing</text>
<text x="976" y="969" style="font-size:26px;fill:#009966">Stress</text>
<text x="880" y="1020" style="font-size:22px;fill:#cc0000">Auxin transport</text>
</g>
</svg>
